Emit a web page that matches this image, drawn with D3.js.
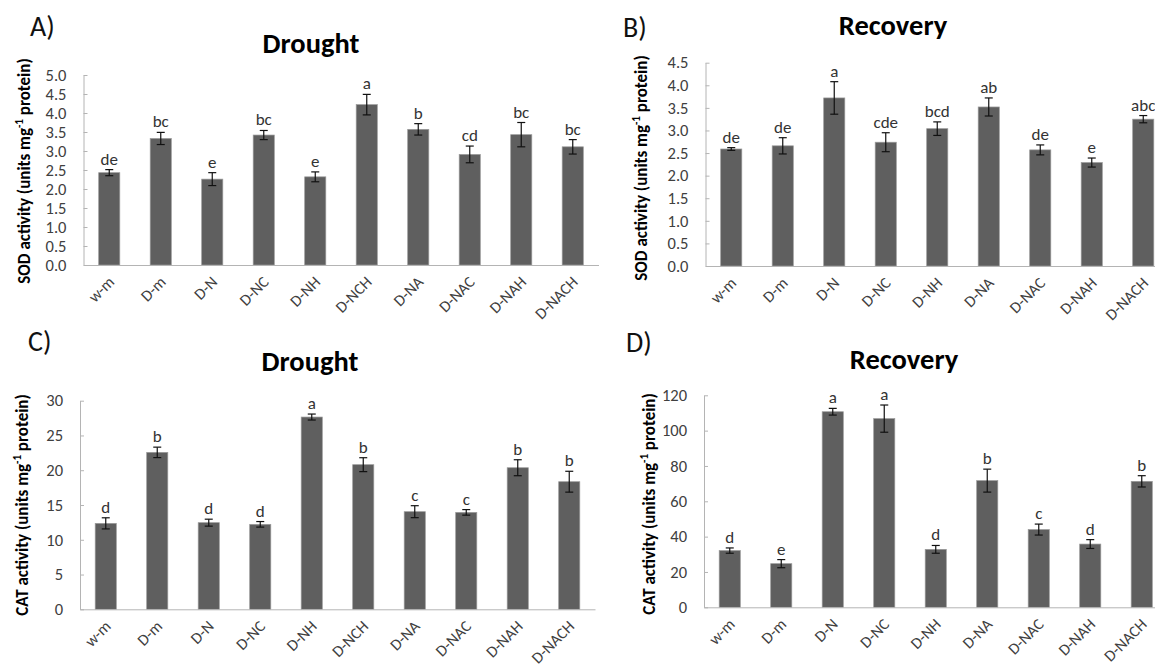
<!DOCTYPE html>
<html><head><meta charset="utf-8">
<script src="https://cdn.jsdelivr.net/npm/d3@7"></script>
<style>
body{margin:0;background:#fff;}
svg{display:block;font-family:Calibri,Carlito,Lato,sans-serif;}
</style></head><body>
<svg id="chart" width="1155" height="666"></svg>
<script>
// ---- data ----
const catsDrought = ["w-m","D-m","D-N","D-NC","D-NH","D-NCH","D-NA","D-NAC","D-NAH","D-NACH"];
const catsRecovery = ["w-m","D-m","D-N","D-NC","D-NH","D-NA","D-NAC","D-NAH","D-NACH"];

const sodDrought = [2.43,3.33,2.26,3.42,2.32,4.22,3.57,2.91,3.43,3.11];
const sodDroughtErr = [0.08,0.16,0.17,0.12,0.13,0.27,0.15,0.22,0.32,0.19];
const sodDroughtLetters = ["de","bc","e","bc","e","a","b","cd","bc","bc"];

const sodRecovery = [2.59,2.66,3.72,2.74,3.04,3.52,2.57,2.29,3.25];
const sodRecoveryErr = [0.03,0.18,0.36,0.21,0.15,0.20,0.11,0.10,0.08];
const sodRecoveryLetters = ["de","de","a","cde","bcd","ab","de","e","abc"];

const catDrought = [12.36,22.57,12.46,12.22,27.65,20.8,14.04,13.94,20.36,18.35];
const catDroughtErr = [0.8,0.75,0.5,0.4,0.43,1.0,0.86,0.4,1.15,1.5];
const catDroughtLetters = ["d","b","d","d","a","b","c","c","b","b"];

const catRecovery = [32.1,24.7,110.7,106.8,32.8,71.7,44.0,35.8,71.3];
const catRecoveryErr = [1.5,2.3,1.9,7.7,2.2,6.5,3.1,2.5,3.2];
const catRecoveryLetters = ["d","e","a","a","d","b","c","d","b"];

const sodDroughtTicks = [0,0.5,1,1.5,2,2.5,3,3.5,4,4.5,5];
const sodRecoveryTicks = [0,0.5,1,1.5,2,2.5,3,3.5,4,4.5];
const catDroughtTicks = [0,5,10,15,20,25,30];
const catRecoveryTicks = [0,20,40,60,80,100,120];

// ---- layout ----
const svg = d3.select("#chart");
const panels = [
  {tag:"A)", title:"Drought", enzyme:"SOD", cats:catsDrought, vals:sodDrought, err:sodDroughtErr, letters:sodDroughtLetters,
   ticks:sodDroughtTicks, max:5, fmt:d3.format(".1f"), x0:83.5, y0:265, yTop:75,
   tagX:30, tagY:36, titleX:311, titleY:53, ytX:24, ytY:171},
  {tag:"B)", title:"Recovery", enzyme:"SOD", cats:catsRecovery, vals:sodRecovery, err:sodRecoveryErr, letters:sodRecoveryLetters,
   ticks:sodRecoveryTicks, max:4.5, fmt:d3.format(".1f"), x0:705.5, y0:266, yTop:62.7,
   tagX:623, tagY:37, titleX:893, titleY:35, ytX:641, ytY:168},
  {tag:"C)", title:"Drought", enzyme:"CAT", cats:catsDrought, vals:catDrought, err:catDroughtErr, letters:catDroughtLetters,
   ticks:catDroughtTicks, max:30, fmt:d3.format("d"), x0:80, y0:609.3, yTop:400.7,
   tagX:28, tagY:351, titleX:310, titleY:371, ytX:22, ytY:505},
  {tag:"D)", title:"Recovery", enzyme:"CAT", cats:catsRecovery, vals:catRecovery, err:catRecoveryErr, letters:catRecoveryLetters,
   ticks:catRecoveryTicks, max:120, fmt:d3.format("d"), x0:704, y0:607.3, yTop:395.3,
   tagX:626, tagY:352, titleX:904, titleY:369, ytX:649, ytY:504}
];
const step = 51.5;
const FONT = "Calibri,Carlito,Lato,sans-serif";

panels.forEach(p => {
  const g = svg.append("g");
  const x = d3.scaleBand().domain(p.cats)
    .range([p.x0, p.x0 + step * p.cats.length]).paddingInner(0.59).paddingOuter(0.295);
  const y = d3.scaleLinear().domain([0, p.max]).range([p.y0, p.yTop]);

  // y axis (ticks inside)
  const ya = g.append("g").attr("transform", `translate(${p.x0},0)`)
    .call(d3.axisRight(y).tickValues(p.ticks).tickFormat("").tickSize(4).tickSizeOuter(0));
  ya.select(".domain").attr("stroke", "#b4b4b4");
  ya.selectAll(".tick line").attr("stroke", "#b4b4b4");
  // tick labels
  const yl = g.append("g").attr("transform", `translate(${p.x0 - 14},0)`)
    .call(d3.axisLeft(y).tickValues(p.ticks).tickFormat(p.fmt).tickSize(0));
  yl.select(".domain").remove();
  yl.selectAll("text").attr("font-size", 16.5).attr("fill", "#404040").attr("font-family", FONT);

  // bars
  g.selectAll("rect.bar").data(p.cats).enter().append("rect")
    .attr("x", d => x(d)).attr("width", x.bandwidth())
    .attr("y", (d,i) => y(p.vals[i])).attr("height", (d,i) => y(0) - y(p.vals[i]))
    .attr("fill", "#5f5f5f").attr("stroke", "#9a9a9a").attr("stroke-width", 0.7);

  // x axis
  const xa = g.append("g").attr("transform", `translate(0,${p.y0})`)
    .call(d3.axisBottom(x).tickSize(0).tickFormat(""));
  xa.select(".domain").attr("stroke", "#b4b4b4");

  // x labels rotated
  g.selectAll("text.xl").data(p.cats).enter().append("text")
    .attr("transform", d => `translate(${x(d) + x.bandwidth()/2 + 6},${p.y0 + 18}) rotate(-45)`)
    .attr("text-anchor", "end").attr("font-size", 16).attr("fill", "#404040")
    .text(d => d);

  // error bars
  const eb = g.selectAll("g.eb").data(p.cats).enter().append("g")
    .attr("stroke", "#111").attr("stroke-width", 1.2);
  eb.append("line").attr("x1", d => x(d)+x.bandwidth()/2).attr("x2", d => x(d)+x.bandwidth()/2)
    .attr("y1", (d,i) => y(p.vals[i]-p.err[i])).attr("y2", (d,i) => y(p.vals[i]+p.err[i]));
  eb.append("line").attr("x1", d => x(d)+x.bandwidth()/2-4).attr("x2", d => x(d)+x.bandwidth()/2+4)
    .attr("y1", (d,i) => y(p.vals[i]-p.err[i])).attr("y2", (d,i) => y(p.vals[i]-p.err[i]));
  eb.append("line").attr("x1", d => x(d)+x.bandwidth()/2-4).attr("x2", d => x(d)+x.bandwidth()/2+4)
    .attr("y1", (d,i) => y(p.vals[i]+p.err[i])).attr("y2", (d,i) => y(p.vals[i]+p.err[i]));

  // letters
  g.selectAll("text.lt").data(p.cats).enter().append("text")
    .attr("x", d => x(d)+x.bandwidth()/2)
    .attr("y", (d,i) => y(p.vals[i]+p.err[i]) - 5)
    .attr("text-anchor", "middle").attr("font-size", 17).attr("fill", "#333")
    .text((d,i) => p.letters[i]);

  // titles
  g.append("text").attr("x", p.tagX).attr("y", p.tagY).attr("font-size", 28).attr("fill", "#111").text(p.tag);
  g.append("text").attr("x", p.titleX).attr("y", p.titleY).attr("text-anchor", "middle")
    .attr("font-size", 28.5).attr("font-weight", "bold").attr("fill", "#000").text(p.title);

  // y title
  const yt = g.append("text").attr("transform", `translate(${p.ytX + 6},${p.ytY}) rotate(-90)`)
    .attr("text-anchor", "middle").attr("font-size", 17).attr("font-weight", "bold").attr("fill", "#000");
  yt.append("tspan").text(p.enzyme + " activity (units mg");
  yt.append("tspan").attr("dy", -7).attr("font-size", 11).text("-1");
  yt.append("tspan").attr("dy", 7).text(" protein)");
});
</script>
</body></html>
